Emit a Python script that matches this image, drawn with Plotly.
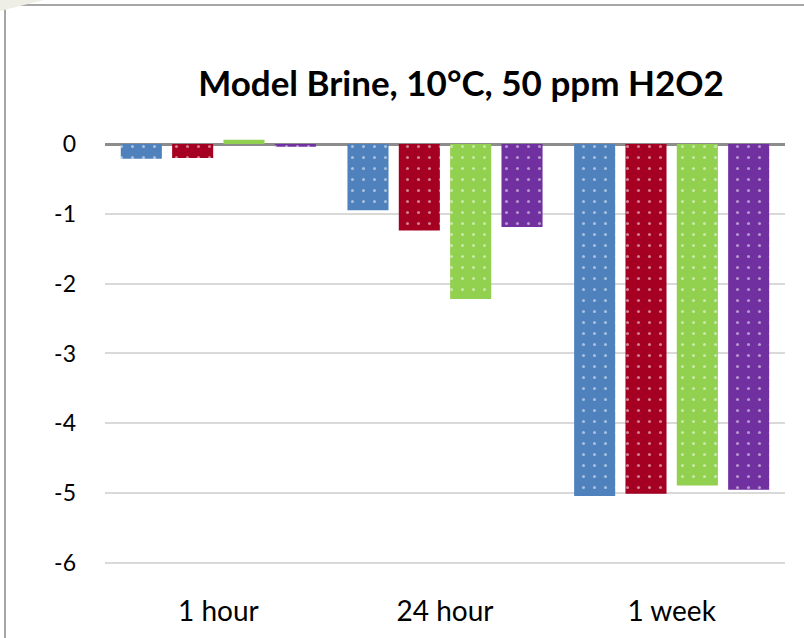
import plotly.graph_objects as go

categories = ["1 hour", "24 hour", "1 week"]
series_a = [-0.21, -0.95, -5.04]
series_b = [-0.20, -1.24, -5.01]
series_c = [0.06, -2.22, -4.89]
series_d = [-0.04, -1.19, -4.95]
series_values = [series_a, series_b, series_c, series_d]
series_names = ["A", "B", "C", "D"]
colors = ["#4F81BD", "#A50021", "#92D050", "#7030A0"]
y_ticks = [0, -1, -2, -3, -4, -5, -6]

W, H = 804, 638
L, R, T, B = 105, 19, 130, 48
FONT = "Lato"

fig = go.Figure()
for name, vals, col in zip(series_names, series_values, colors):
    fig.add_trace(go.Bar(
        x=categories, y=vals, name=name,
        marker=dict(color=col, line=dict(width=0),
                    pattern=dict(shape=".", fgcolor="white", bgcolor=col,
                                 size=11, solidity=0.06, fillmode="overlay")),
    ))

# frame lines (pixel -> paper)
def px(x):
    return (x - L) / (W - L - R)

def py(y):
    return (H - B - y) / (H - T - B)

shapes = [
    dict(type="line", xref="paper", yref="paper", x0=px(5), x1=px(W), y0=py(5), y1=py(5),
         line=dict(color="#A6A6A6", width=2)),
    dict(type="line", xref="paper", yref="paper", x0=px(5), x1=px(5), y0=py(5), y1=py(H),
         line=dict(color="#A6A6A6", width=2)),
    dict(type="path", xref="paper", yref="paper",
         path=f"M {px(0)},{py(0)} L {px(44)},{py(0)} L {px(0)},{py(11)} Z",
         fillcolor="#EFEEE6", line=dict(width=0)),
]

fig.update_layout(
    width=W, height=H,
    margin=dict(l=L, r=R, t=T, b=B),
    paper_bgcolor="white", plot_bgcolor="white",
    barmode="group", bargap=0.094, bargroupgap=0.2,
    showlegend=False,
    font=dict(family=FONT, color="#000000"),
    title=dict(text="<b>Model Brine, 10°C, 50 ppm H2O2</b>",
               x=461 / W, xanchor="center", y=1 - 84 / H, yanchor="middle",
               font=dict(family=FONT, size=35, color="#000000")),
    xaxis=dict(showgrid=False, showline=False, ticks="", zeroline=False,
               tickfont=dict(size=28, family=FONT), ticklabelstandoff=2),
    yaxis=dict(range=[-(H - B - 144) / 69.83, (144 - T) / 69.83],
               tickvals=y_ticks, ticktext=[str(v) for v in y_ticks],
               showgrid=True, gridcolor="#D9D9D9", gridwidth=1.5,
               zeroline=True, zerolinecolor="#8C8C8C", zerolinewidth=2.5,
               showline=False, ticks="", tickfont=dict(size=23, family=FONT),
               ticklabelstandoff=28),
    shapes=shapes,
)

fig.write_html("out.html")
